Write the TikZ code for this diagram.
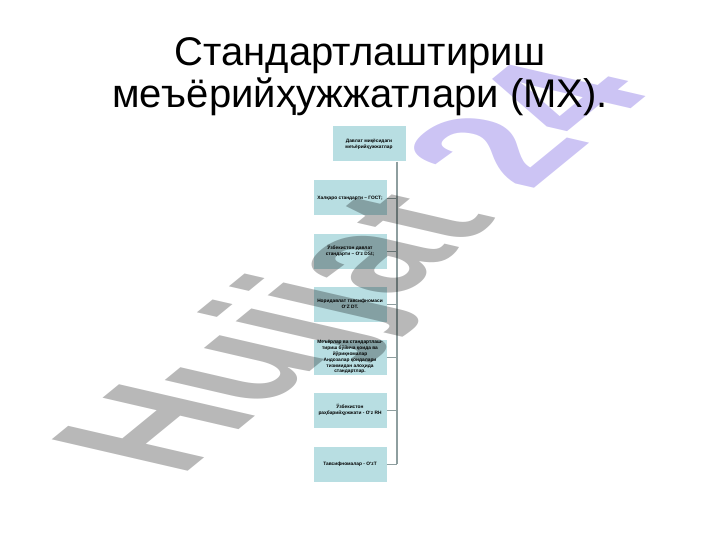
\documentclass[tikz,border=0pt]{standalone}
\usepackage{fontspec}
\setmainfont{Liberation Sans}
\definecolor{boxfill}{HTML}{B8DEE2}
\definecolor{busline}{HTML}{8E9E9F}
\definecolor{markgray}{HTML}{B8B8B8}
\definecolor{marklilac}{HTML}{CCC4F4}
\newcommand{\boxfont}{\fontsize{4.8}{5.9}\selectfont\bfseries}

\begin{document}
\begin{tikzpicture}[x=1pt,y=-1pt,
  mxbox/.style={fill=boxfill, minimum width=73pt, minimum height=35pt, inner sep=0.5pt, align=center, font=\boxfont},
  heading/.style={anchor=base, inner sep=0pt, font=\fontsize{40}{44}\selectfont},
  trunk/.style={draw=busline, line width=1.6pt},
  twig/.style={draw=busline, line width=0.8pt}]
\useasboundingbox (0,0) rectangle (720,540);

% title
\node[heading] (title1) at (360,66) {Стандартлаштириш};
\node[heading] (title2) at (360,108) {меъёрийҳужжатлари (МХ).};

% boxes
\node[mxbox] (top) at (369,144) {Давлат миқёсидаги\\меъёрийҳужжатлар};
\node[mxbox] (b2) at (350,198) {Халқаро стандарти – ГОСТ;};
\node[mxbox] (b3) at (350,251) {Ўзбекистон давлат\\стандарти – O‘z DSt;};
\node[mxbox] (b4) at (350,304) {Норидавлат тавсифномаси\\O‘Z DT.};
\node[mxbox] (b5) at (350,357) {Меъёрлар ва стандартлаш-\\тириш бўйича қоида ва\\йўриқномалар\\Андозалар қоидалари\\тизимидан алоҳида\\стандартлар.};
\node[mxbox] (b6) at (350,410) {Ўзбекистон\\раҳбарийҳужжати - O‘z RH};
\node[mxbox] (b7) at (350,464) {Тавсифномалар - O‘zT};

% connectors
\coordinate (bus) at (397,464);
\draw[trunk] (top.south -| bus) -- (bus);
\foreach \b in {b2,b3,b4,b5,b6,b7}
  \draw[twig] (\b.east) -- (\b.east -| bus);

% watermark
\begin{scope}[blend mode=multiply, cm={1.145,0.937,-1.977,0.457,(180,478)}]
\node[anchor=base west, inner sep=0pt, transform shape, font=\fontsize{100}{100}\selectfont\bfseries] (mark) at (0,0) {\textcolor{markgray}{Hujjat} \textcolor{marklilac}{24}};
\end{scope}

\end{tikzpicture}
\end{document}
